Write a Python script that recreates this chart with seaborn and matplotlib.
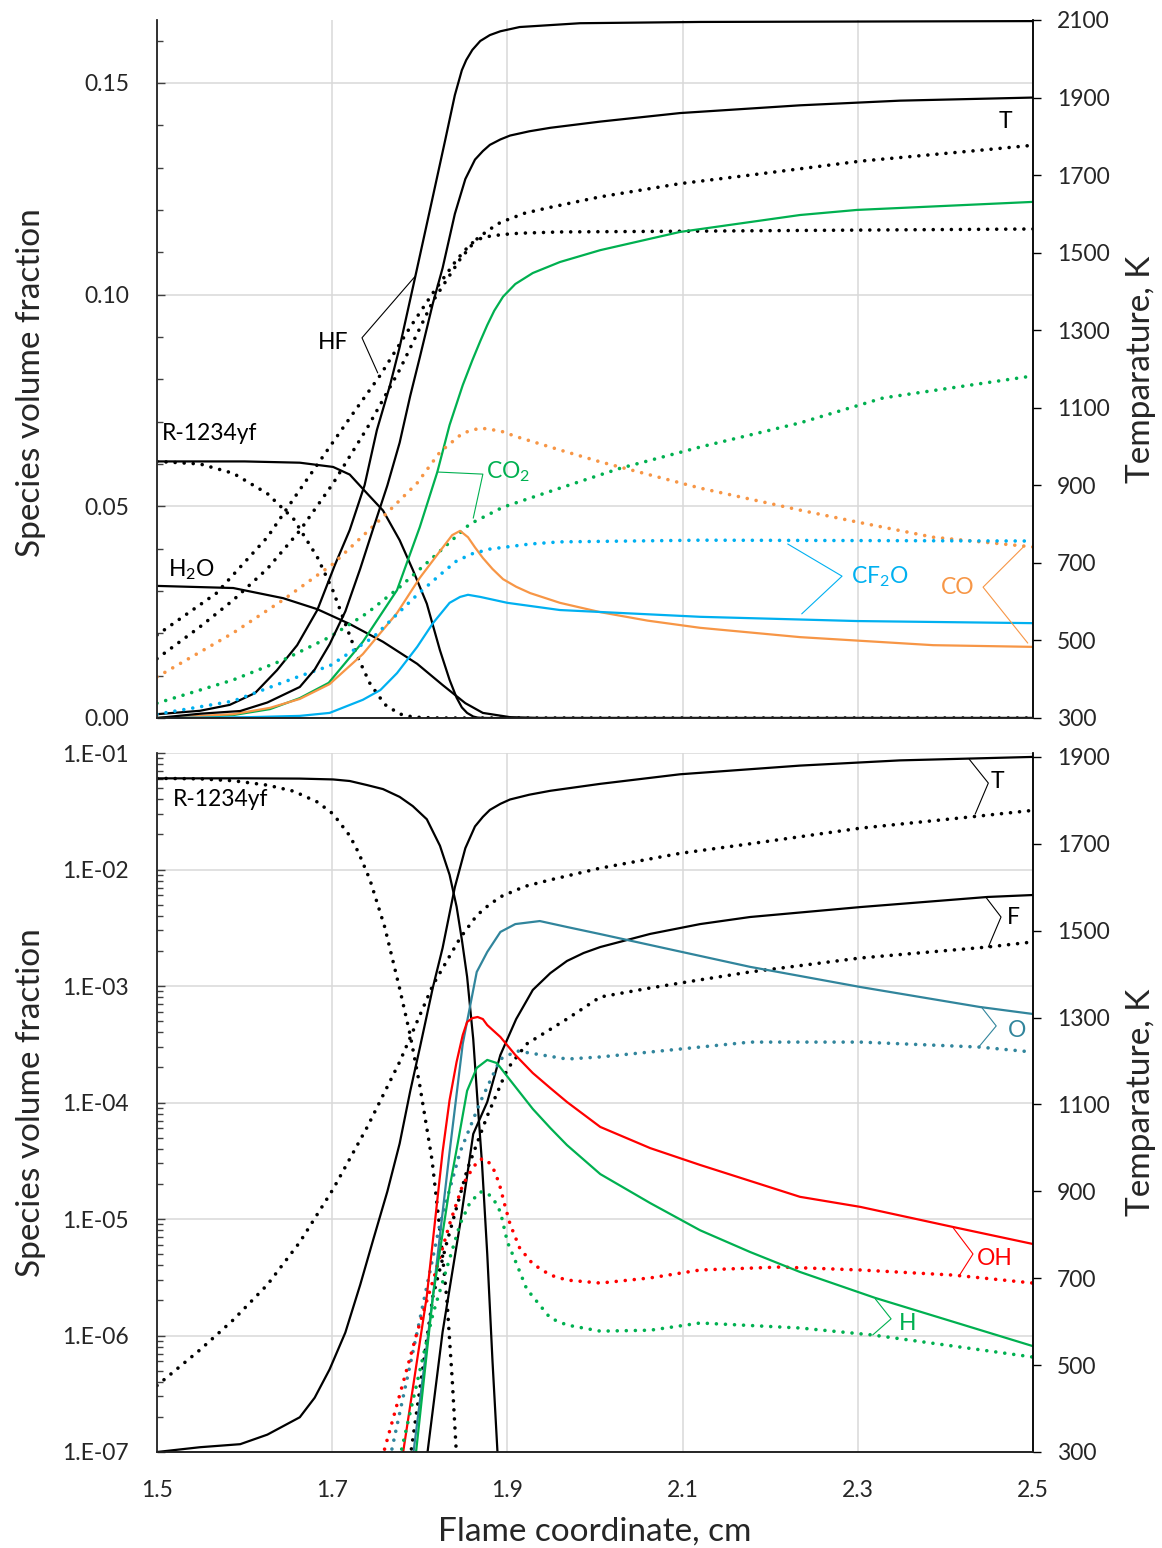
import matplotlib
matplotlib.use("Agg")
import matplotlib.pyplot as plt
import matplotlib.ticker as mticker
import numpy as np
import seaborn as sns

# ---------------- data ----------------
# Temperature (shared by both panels)
T_x = [1.500, 1.549, 1.595, 1.626, 1.663, 1.680, 1.697, 1.715, 1.732, 1.747, 1.763, 1.777, 1.789, 1.800,
       1.815, 1.826, 1.840, 1.852, 1.863, 1.872, 1.880, 1.892, 1.903, 1.925, 1.949, 2.006, 2.097, 2.234,
       2.348, 2.500]
T_solid = [300, 311, 318, 340, 380, 425, 490, 575, 685, 790, 900, 1010, 1130, 1230,
           1370, 1460, 1600, 1690, 1740, 1762, 1778, 1792, 1802, 1813, 1822, 1838, 1860, 1880,
           1892, 1900]
Td_x = [1.500, 1.549, 1.587, 1.626, 1.663, 1.701, 1.740, 1.777, 1.815, 1.846, 1.865, 1.877, 1.892, 1.920,
        1.949, 2.006, 2.097, 2.177, 2.303, 2.439, 2.500]
T_dotted = [453, 535, 604, 685, 783, 905, 1048, 1198, 1375, 1483, 1535, 1556, 1578, 1602,
            1617, 1644, 1678, 1700, 1736, 1764, 1777]

# R-1234yf (shared)
R_x = [1.500, 1.600, 1.663, 1.701, 1.720, 1.740, 1.758, 1.777, 1.792, 1.808, 1.823, 1.834, 1.842, 1.848,
       1.854, 1.861, 1.866, 1.871, 1.877, 1.883, 1.889, 1.895, 2.500]
R_solid = [0.0606, 0.0606, 0.0603, 0.0593, 0.0575, 0.0530, 0.0490, 0.0420, 0.0350, 0.0270, 0.0160, 0.0090,
           0.0048, 0.0025, 0.0012, 3.5e-4, 1.0e-4, 3.0e-5, 5.0e-6, 6.0e-7, 9.0e-8, 0, 0]
Rd_x = [1.500, 1.549, 1.587, 1.626, 1.656, 1.683, 1.701, 1.720, 1.730, 1.743, 1.760, 1.777, 1.789, 1.800,
        1.814, 1.823, 1.831, 1.837, 1.842, 1.850, 2.500]
R_dotted = [0.0606, 0.0600, 0.0578, 0.0530, 0.0470, 0.0380, 0.0300, 0.0195, 0.0140, 0.0082, 0.0032, 9.5e-4,
            3.8e-4, 1.4e-4, 3.2e-5, 8.0e-6, 2.0e-6, 4.2e-7, 9e-8, 0, 0]

# Top panel species
HF_x = [1.500, 1.549, 1.583, 1.612, 1.637, 1.660, 1.683, 1.703, 1.720, 1.737, 1.751, 1.766, 1.777, 1.795,
        1.814, 1.829, 1.840, 1.848, 1.853, 1.860, 1.869, 1.880, 1.892, 1.914, 1.983, 2.120, 2.500]
HF_solid = [0.0009, 0.0017, 0.0031, 0.0059, 0.0113, 0.0172, 0.0255, 0.0361, 0.0444, 0.0550, 0.0680, 0.0786,
            0.0876, 0.1044, 0.1223, 0.1365, 0.1471, 0.1530, 0.1554, 0.1578, 0.1599, 0.1613, 0.1622,
            0.1632, 0.1641, 0.1644, 0.1646]
HFd_x = [1.500, 1.568, 1.626, 1.663, 1.697, 1.724, 1.755, 1.789, 1.815, 1.842, 1.853, 1.861, 1.870, 1.880,
         1.895, 1.914, 1.960, 2.120, 2.500]
HF_dotted = [0.0196, 0.0295, 0.0427, 0.0539, 0.0640, 0.0720, 0.0810, 0.0923, 0.1004, 0.1082, 0.1108,
             0.1124, 0.1133, 0.1138, 0.1142, 0.1145, 0.1148, 0.1150, 0.1155]

H2O_x = [1.500, 1.587, 1.644, 1.683, 1.720, 1.758, 1.797, 1.826, 1.852, 1.872, 1.903, 1.937, 2.500]
H2O_solid = [0.0312, 0.0307, 0.0283, 0.0257, 0.0222, 0.0180, 0.0128, 0.0078, 0.0035, 0.0012, 0.0002, 0, 0]

CO2_x = [1.500, 1.549, 1.587, 1.629, 1.663, 1.696, 1.735, 1.774, 1.800, 1.820, 1.834, 1.849, 1.860, 1.869,
         1.877, 1.885, 1.895, 1.909, 1.929, 1.960, 2.006, 2.097, 2.234, 2.299, 2.500]
CO2_solid = [0, 0.0002, 0.0007, 0.0021, 0.0047, 0.0083, 0.0180, 0.0302, 0.0451, 0.0581, 0.0692, 0.0786,
             0.0845, 0.0890, 0.0928, 0.0962, 0.0995, 0.1025, 0.1051, 0.1077, 0.1105, 0.1148, 0.1188,
             0.1200, 0.1219]
CO2d_x = [1.500, 1.587, 1.644, 1.697, 1.740, 1.777, 1.823, 1.857, 1.895, 1.960, 2.029, 2.120, 2.234, 2.329, 2.500]
CO2_dotted = [0.0035, 0.0090, 0.0137, 0.0191, 0.0248, 0.0309, 0.0394, 0.0458, 0.0498, 0.0543, 0.0590,
              0.0640, 0.0697, 0.0756, 0.0808]

CO_x = [1.500, 1.549, 1.587, 1.629, 1.663, 1.697, 1.735, 1.774, 1.800, 1.823, 1.837, 1.846, 1.855, 1.863,
        1.872, 1.883, 1.895, 1.910, 1.926, 1.960, 2.006, 2.060, 2.120, 2.234, 2.386, 2.500]
CO_solid = [0, 0.0005, 0.0009, 0.0024, 0.0045, 0.0080, 0.0151, 0.0248, 0.0331, 0.0394, 0.0432, 0.0442,
            0.0427, 0.0403, 0.0378, 0.0352, 0.0328, 0.0310, 0.0295, 0.0272, 0.0250, 0.0230, 0.0213,
            0.0191, 0.0172, 0.0168]
COd_x = [1.500, 1.587, 1.644, 1.701, 1.758, 1.797, 1.823, 1.849, 1.869, 1.892, 1.911, 1.960, 2.006, 2.120,
         2.234, 2.299, 2.386, 2.500]
CO_dotted = [0.0097, 0.0201, 0.0279, 0.0364, 0.0475, 0.0555, 0.0628, 0.0673, 0.0685, 0.0678, 0.0664,
             0.0633, 0.0605, 0.0543, 0.0491, 0.0463, 0.0427, 0.0404]

CF2O_x = [1.500, 1.606, 1.663, 1.697, 1.735, 1.755, 1.774, 1.797, 1.815, 1.834, 1.846, 1.855, 1.869, 1.900,
          1.960, 2.120, 2.299, 2.500]
CF2O_solid = [0, 0.0002, 0.0005, 0.0012, 0.0043, 0.0066, 0.0106, 0.0168, 0.0224, 0.0272, 0.0286, 0.0291,
              0.0286, 0.0272, 0.0255, 0.0239, 0.0229, 0.0224]
CF2Od_x = [1.500, 1.587, 1.663, 1.697, 1.747, 1.797, 1.823, 1.842, 1.860, 1.880, 1.926, 1.960, 2.120, 2.500]
CF2O_dotted = [0.0009, 0.0040, 0.0099, 0.0123, 0.0191, 0.0291, 0.0338, 0.0371, 0.0388, 0.0399, 0.0411,
               0.0416, 0.0420, 0.0418]

# Bottom panel species (log scale)
F_x = [1.808, 1.826, 1.846, 1.861, 1.877, 1.892, 1.910, 1.929, 1.949, 1.968, 1.987, 2.006, 2.063, 2.120,
       2.177, 2.303, 2.448, 2.500]
F_solid = [8.9e-8, 1.07e-6, 9.06e-6, 5.37e-5, 1.01e-4, 2.56e-4, 5.2e-4, 9.25e-4, 1.29e-3, 1.64e-3,
           1.92e-3, 2.16e-3, 2.80e-3, 3.40e-3, 3.91e-3, 4.76e-3, 5.81e-3, 6.04e-3]
Fd_x = [1.789, 1.815, 1.831, 1.854, 1.877, 1.900, 1.922, 1.968, 2.006, 2.063, 2.120, 2.177, 2.303, 2.448, 2.500]
F_dotted = [8.9e-8, 2.18e-6, 6.35e-6, 2.64e-5, 7.66e-5, 1.94e-4, 3.18e-4, 5.21e-4, 8.05e-4, 9.62e-4,
            1.13e-3, 1.32e-3, 1.74e-3, 2.16e-3, 2.39e-3]

O_x = [1.792, 1.815, 1.834, 1.849, 1.865, 1.877, 1.892, 1.909, 1.937, 1.968, 2.006, 2.177, 2.303, 2.439, 2.500]
O_solid = [8.9e-8, 2.18e-6, 3.76e-5, 3.18e-4, 1.32e-3, 1.96e-3, 2.91e-3, 3.40e-3, 3.61e-3, 3.21e-3, 2.79e-3,
           1.46e-3, 9.8e-4, 6.61e-4, 5.75e-4]
Od_x = [1.766, 1.797, 1.823, 1.846, 1.869, 1.892, 1.911, 1.968, 2.006, 2.177, 2.303, 2.439, 2.500]
O_dotted = [8.9e-8, 1.07e-6, 9.06e-6, 3.76e-5, 1.01e-4, 2.36e-4, 2.77e-4, 2.36e-4, 2.46e-4, 3.30e-4,
            3.30e-4, 2.99e-4, 2.71e-4]

OH_x = [1.780, 1.808, 1.826, 1.834, 1.842, 1.849, 1.854, 1.860, 1.866, 1.872, 1.877, 1.892, 1.909, 1.929,
        1.949, 1.968, 2.006, 2.063, 2.120, 2.234, 2.303, 2.409, 2.500]
OH_solid = [8.9e-8, 2.18e-6, 3.76e-5, 1.05e-4, 2.23e-4, 3.79e-4, 4.91e-4, 5.30e-4, 5.42e-4, 5.20e-4,
            4.62e-4, 3.65e-4, 2.56e-4, 1.79e-4, 1.33e-4, 1.01e-4, 6.17e-5, 4.06e-5, 2.91e-5, 1.55e-5,
            1.27e-5, 8.53e-6, 6.10e-6]
OHd_x = [1.757, 1.777, 1.797, 1.817, 1.834, 1.849, 1.861, 1.869, 1.877, 1.886, 1.892, 1.897, 1.903, 1.914,
         1.929, 1.949, 1.968, 2.006, 2.063, 2.120, 2.211, 2.303, 2.409, 2.500]
OH_dotted = [8.9e-8, 3.08e-7, 1.07e-6, 3.30e-6, 9.06e-6, 1.96e-5, 2.79e-5, 3.27e-5, 3.21e-5, 2.53e-5,
             1.85e-5, 1.32e-5, 9.06e-6, 5.64e-6, 4.11e-6, 3.30e-6, 2.99e-6, 2.82e-6, 3.12e-6, 3.65e-6,
             3.87e-6, 3.65e-6, 3.30e-6, 2.82e-6]

H_x = [1.795, 1.815, 1.834, 1.844, 1.854, 1.865, 1.877, 1.888, 1.903, 1.929, 1.949, 1.968, 2.006, 2.063,
       2.120, 2.177, 2.234, 2.320, 2.500]
H_solid = [8.9e-8, 2.18e-6, 1.85e-5, 4.77e-5, 1.26e-4, 1.98e-4, 2.32e-4, 2.18e-4, 1.56e-4, 8.8e-5, 6.04e-5,
           4.31e-5, 2.43e-5, 1.37e-5, 8.0e-6, 5.21e-6, 3.51e-6, 2.10e-6, 8.1e-7]
Hd_x = [1.777, 1.815, 1.846, 1.857, 1.869, 1.877, 1.884, 1.892, 1.900, 1.911, 1.922, 1.949, 1.968, 2.006,
        2.063, 2.120, 2.234, 2.317, 2.500]
H_dotted = [8.9e-8, 1.53e-6, 9.06e-6, 1.37e-5, 1.71e-5, 1.67e-5, 1.49e-5, 1.15e-5, 6.35e-6, 4.03e-6,
            2.51e-6, 1.41e-6, 1.23e-6, 1.09e-6, 1.11e-6, 1.28e-6, 1.16e-6, 1.01e-6, 6.53e-7]

x_ticks = [1.5, 1.7, 1.9, 2.1, 2.3, 2.5]
log_major_ticks = [1e-7, 1e-6, 1e-5, 1e-4, 1e-3, 1e-2, 1e-1]

# ---------------- style ----------------
sns.set_theme(style="white")
plt.rcParams['font.family'] = ['Lato', 'DejaVu Sans']
plt.rcParams['mathtext.fontset'] = 'custom'
plt.rcParams['mathtext.rm'] = 'Lato'
plt.rcParams['mathtext.it'] = 'Lato'
plt.rcParams['mathtext.default'] = 'regular'

BLACK = '#000000'
GREEN = '#00B050'
BLUE = '#00B0F0'
ORANGE = '#F79646'
RED = '#FF0000'
TEAL = '#31859C'
GRID = '#D9D9D9'

TICK_FS = 16.5
LABEL_FS = 24
ANN_FS = 16.5

fig = plt.figure(figsize=(11.62, 15.48), dpi=100)
L, W = 157 / 1162, 876 / 1162
ax_top = fig.add_axes([L, (1548 - 718) / 1548, W, 698 / 1548])
ax_bot = fig.add_axes([L, (1548 - 1452) / 1548, W, 699 / 1548])


def draw(ax, x, y, color, dotted=False, positive_only=False):
    x = np.asarray(x, float)
    y = np.asarray(y, float)
    if positive_only:
        m = y > 0
        x, y = x[m], y[m]
    kw = dict(color=color, legend=False, estimator=None, errorbar=None, sort=False)
    if dotted:
        kw.update(linewidth=2.6, linestyle=(0, (0.01, 2.5)), dash_capstyle='round')
    else:
        kw.update(linewidth=1.6, solid_capstyle='round', solid_joinstyle='round')
    sns.lineplot(x=x, y=y, ax=ax, **kw)


def leader(ax, pts, color):
    xs = [p[0] for p in pts]
    ys = [p[1] for p in pts]
    ax.plot(xs, ys, color=color, lw=0.8, zorder=5)


def style_axes(ax, ax2):
    ax.set_xlim(1.5, 2.5)
    ax.set_xticks(x_ticks)
    ax.grid(True, axis='both', which='major', color=GRID, lw=1.1)
    ax.set_axisbelow(True)
    ax.spines['top'].set_visible(False)
    ax2.spines['top'].set_visible(False)
    ax.spines['left'].set_color('#404040')
    ax.spines['bottom'].set_color(BLACK)
    ax2.spines['right'].set_color(BLACK)
    for s in ax.spines.values():
        s.set_linewidth(1.1)
    for s in ax2.spines.values():
        s.set_linewidth(1.1)
    ax.tick_params(axis='y', which='major', direction='in', length=6, width=1, color='#404040',
                   labelsize=TICK_FS, pad=20, left=True)
    ax.tick_params(axis='y', which='minor', direction='in', length=4.5, width=1, color='#404040', left=True)
    ax.tick_params(axis='x', which='both', length=0, labelsize=TICK_FS, pad=20)
    ax2.tick_params(axis='y', which='major', direction='out', length=6, width=1, color=BLACK,
                    labelsize=TICK_FS, pad=11, right=True)
    ax2.tick_params(axis='y', which='minor', right=False)
    ax2.grid(False)
    ax.set_ylabel('Species volume fraction', fontsize=LABEL_FS)
    ax2.set_ylabel('Temparature, K', fontsize=LABEL_FS, rotation=90)


# ---------------- top panel ----------------
ax_top2 = ax_top.twinx()

draw(ax_top, HF_x, HF_solid, BLACK)
draw(ax_top, HFd_x, HF_dotted, BLACK, dotted=True)
draw(ax_top, R_x, R_solid, BLACK)
draw(ax_top, Rd_x, R_dotted, BLACK, dotted=True)
draw(ax_top, H2O_x, H2O_solid, BLACK)
draw(ax_top, CO2_x, CO2_solid, GREEN)
draw(ax_top, CO2d_x, CO2_dotted, GREEN, dotted=True)
draw(ax_top, CO_x, CO_solid, ORANGE)
draw(ax_top, COd_x, CO_dotted, ORANGE, dotted=True)
draw(ax_top, CF2O_x, CF2O_solid, BLUE)
draw(ax_top, CF2Od_x, CF2O_dotted, BLUE, dotted=True)
draw(ax_top2, T_x, T_solid, BLACK)
draw(ax_top2, Td_x, T_dotted, BLACK, dotted=True)

ax_top.set_ylim(0, 0.16486)
ax_top.yaxis.set_major_locator(mticker.MultipleLocator(0.05))
ax_top.yaxis.set_minor_locator(mticker.MultipleLocator(0.01))
ax_top.yaxis.set_major_formatter(mticker.FormatStrFormatter('%.2f'))
ax_top2.set_ylim(300, 2100)
ax_top2.set_yticks(np.arange(300, 2101, 200))
style_axes(ax_top, ax_top2)
ax_top.tick_params(axis='x', labelbottom=False)
ax_top.set_xlabel('')
ax_top.yaxis.set_label_coords(-0.127, 0.48)
ax_top2.yaxis.set_label_coords(1.106, 0.5)

# annotations top
ax_top.text(1.701, 0.0888, 'HF', fontsize=ANN_FS, ha='center', va='center', color=BLACK)
leader(ax_top, [(1.795, 0.1044), (1.734, 0.0898), (1.752, 0.0815)], BLACK)
ax_top.text(1.876, 0.0581, 'CO$_2$', fontsize=ANN_FS, ha='left', va='center', color=GREEN)
leader(ax_top, [(1.820, 0.0581), (1.872, 0.0576), (1.861, 0.0472)], GREEN)
ax_top.text(1.506, 0.0673, 'R-1234yf', fontsize=ANN_FS, ha='left', va='center', color=BLACK)
ax_top.text(1.513, 0.0350, 'H$_2$O', fontsize=ANN_FS, ha='left', va='center', color=BLACK)
ax_top.text(2.469, 0.1410, 'T', fontsize=ANN_FS, ha='center', va='center', color=BLACK)
ax_top.text(2.292, 0.0333, 'CF$_2$O', fontsize=ANN_FS, ha='left', va='center', color=BLUE)
leader(ax_top, [(2.220, 0.0411), (2.282, 0.0335), (2.236, 0.0246)], BLUE)
ax_top.text(2.414, 0.0309, 'CO', fontsize=ANN_FS, ha='center', va='center', color=ORANGE)
leader(ax_top, [(2.489, 0.0404), (2.443, 0.0309), (2.494, 0.0177)], ORANGE)

# ---------------- bottom panel ----------------
ax_bot2 = ax_bot.twinx()

draw(ax_bot, R_x, R_solid, BLACK, positive_only=True)
draw(ax_bot, Rd_x, R_dotted, BLACK, dotted=True, positive_only=True)
draw(ax_bot, F_x, F_solid, BLACK)
draw(ax_bot, Fd_x, F_dotted, BLACK, dotted=True)
draw(ax_bot, O_x, O_solid, TEAL)
draw(ax_bot, Od_x, O_dotted, TEAL, dotted=True)
draw(ax_bot, OH_x, OH_solid, RED)
draw(ax_bot, OHd_x, OH_dotted, RED, dotted=True)
draw(ax_bot, H_x, H_solid, GREEN)
draw(ax_bot, Hd_x, H_dotted, GREEN, dotted=True)
draw(ax_bot2, T_x, T_solid, BLACK)
draw(ax_bot2, Td_x, T_dotted, BLACK, dotted=True)

ax_bot.set_yscale('log')
ax_bot.set_ylim(1e-7, 1e-1)
minor_ticks = [m * d for d in log_major_ticks[:-1] for m in range(2, 10)]
ax_bot.yaxis.set_major_locator(mticker.FixedLocator(log_major_ticks))
ax_bot.yaxis.set_minor_locator(mticker.FixedLocator(minor_ticks))
ax_bot.yaxis.set_minor_formatter(mticker.NullFormatter())
ax_bot.yaxis.set_major_formatter(mticker.FuncFormatter(
    lambda v, p: '1.E-%02d' % int(round(-np.log10(v)))))
ax_bot2.set_ylim(300, 1909)
ax_bot2.set_yticks(np.arange(300, 1901, 200))
style_axes(ax_bot, ax_bot2)
ax_bot.xaxis.set_major_formatter(mticker.FormatStrFormatter('%.1f'))
ax_bot.set_xlabel('Flame coordinate, cm', fontsize=LABEL_FS, labelpad=11)
ax_bot.yaxis.set_label_coords(-0.127, 0.5)
ax_bot2.yaxis.set_label_coords(1.106, 0.5)

# annotations bottom
ax_bot.text(1.518, 0.0395, 'R-1234yf', fontsize=ANN_FS, ha='left', va='center', color=BLACK)
ax_bot.text(2.452, 0.0564, 'T', fontsize=ANN_FS, ha='left', va='center', color=BLACK)
leader(ax_bot, [(2.427, 0.0888), (2.449, 0.0552), (2.434, 0.0299)], BLACK)
ax_bot.text(2.470, 3.84e-3, 'F', fontsize=ANN_FS, ha='left', va='center', color=BLACK)
leader(ax_bot, [(2.446, 5.81e-3), (2.4635, 3.91e-3), (2.449, 2.16e-3)], BLACK)
ax_bot.text(2.471, 4.19e-4, 'O', fontsize=ANN_FS, ha='left', va='center', color=TEAL)
leader(ax_bot, [(2.441, 6.61e-4), (2.458, 4.54e-4), (2.438, 2.99e-4)], TEAL)
ax_bot.text(2.436, 4.62e-6, 'OH', fontsize=ANN_FS, ha='left', va='center', color=RED)
leader(ax_bot, [(2.409, 8.38e-6), (2.4315, 5.01e-6), (2.4155, 3.24e-6)], RED)
ax_bot.text(2.347, 1.28e-6, 'H', fontsize=ANN_FS, ha='left', va='center', color=GREEN)
leader(ax_bot, [(2.320, 2.06e-6), (2.338, 1.39e-6), (2.317, 1.01e-6)], GREEN)

fig.savefig('out.png', dpi=100)
